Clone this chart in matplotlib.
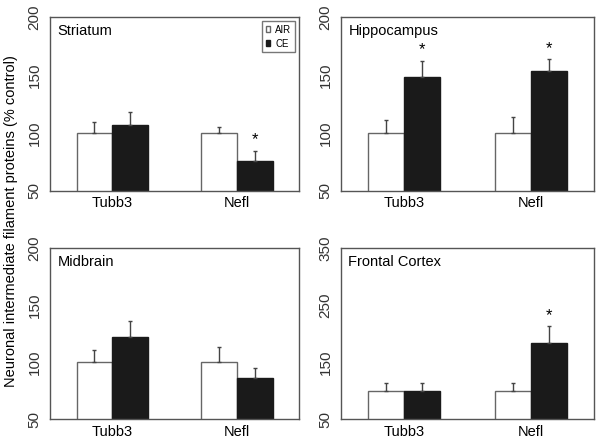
import numpy as np
import matplotlib.pyplot as plt

# Data (% control)
genes = ['Tubb3', 'Nefl']
regions = ['Striatum', 'Hippocampus', 'Midbrain', 'Frontal Cortex']

air_means = [[100, 100], [100, 100], [100, 100], [100, 100]]
air_errs = [[9, 5], [11, 14], [11, 13], [14, 14]]
ce_means = [[107, 76], [148, 153], [122, 86], [100, 184]]
ce_errs = [[11, 8.5], [14, 10.5], [14, 8.5], [13, 28.5]]
signif = [[False, True], [True, True], [False, False], [False, True]]

ylims = [(50, 200), (50, 200), (50, 200), (50, 350)]
yticks = [[50, 100, 150, 200], [50, 100, 150, 200], [50, 100, 150, 200], [50, 150, 250, 350]]

fig = plt.figure(figsize=(6.02, 4.43), dpi=100)
plt.rcParams['font.family'] = 'Liberation Sans'

positions = [
    [0.083, 0.569, 0.414, 0.393],
    [0.566, 0.569, 0.421, 0.393],
    [0.083, 0.054, 0.414, 0.386],
    [0.566, 0.054, 0.421, 0.386],
]

x = np.arange(len(genes))
w = 0.286
frame_col = '#555555'

for i, region in enumerate(regions):
    ax = fig.add_axes(positions[i])
    ax.bar(x - w / 2, air_means[i], w, bottom=0, color='white', edgecolor='#666666',
           linewidth=1.0, label='AIR', zorder=2)
    ax.bar(x + w / 2, ce_means[i], w, color='#1a1a1a', edgecolor='#1a1a1a',
           linewidth=1.0, label='CE', zorder=2)
    ax.errorbar(x - w / 2, air_means[i], yerr=[np.zeros(2), air_errs[i]], fmt='none',
                ecolor='#444444', elinewidth=1.0, capsize=1.5, zorder=3)
    ax.errorbar(x + w / 2, ce_means[i], yerr=[np.zeros(2), ce_errs[i]], fmt='none',
                ecolor='#444444', elinewidth=1.0, capsize=1.5, zorder=3)

    span = ylims[i][1] - ylims[i][0]
    for j in range(len(genes)):
        if signif[i][j]:
            ax.text(x[j] + w / 2, ce_means[i][j] + ce_errs[i][j] + span * 0.02, '*',
                    ha='center', va='bottom', fontsize=12)

    ax.set_xlim(-0.5, 1.5)
    ax.set_ylim(*ylims[i])
    ax.set_yticks(yticks[i])
    ax.set_yticklabels([str(t) for t in yticks[i]], rotation=90, va='center',
                       fontsize=11, color='#333333')
    ax.set_xticks(x)
    ax.set_xticklabels(genes, fontsize=10.5)
    ax.tick_params(axis='y', length=0, pad=6)
    ax.tick_params(axis='x', length=0, pad=4)
    for s in ax.spines.values():
        s.set_color(frame_col)
        s.set_linewidth(1.0)
    ax.text(0.03, 0.96, region, transform=ax.transAxes, ha='left', va='top', fontsize=10.5)

    if i == 0:
        ax.legend(loc='upper right', fontsize=7, handlelength=0.5, handleheight=0.5,
                  handletextpad=0.5, borderpad=0.4, labelspacing=0.4, frameon=True,
                  fancybox=False, edgecolor='#555555', borderaxespad=0.4)

fig.text(0.018, 0.5, 'Neuronal intermediate filament proteins (% control)',
         rotation=90, ha='center', va='center', fontsize=10.5)

fig.savefig('out.png', dpi=100)
